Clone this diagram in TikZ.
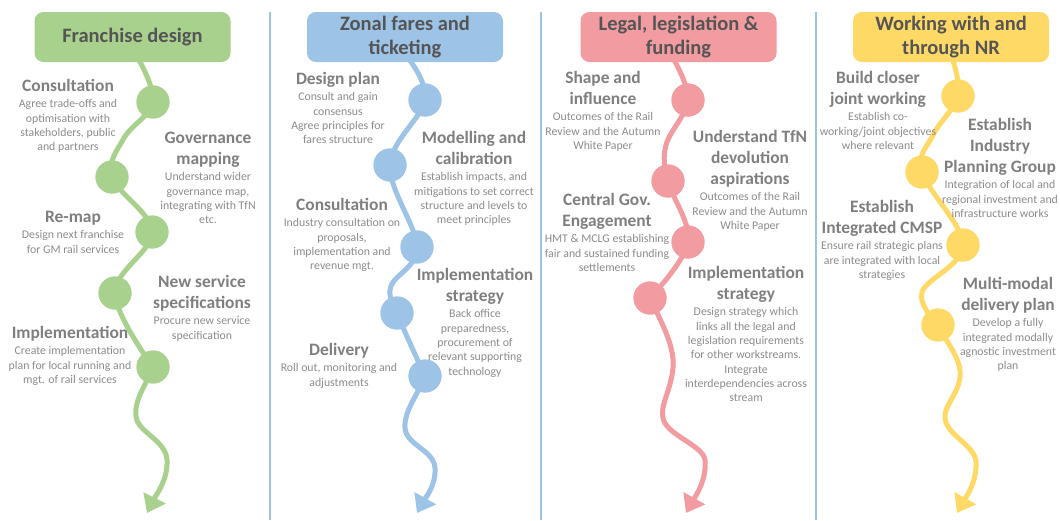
\documentclass[tikz,border=0pt]{standalone}
\usepackage{fontspec}
\setmainfont{Carlito}
\usetikzlibrary{arrows.meta}
\definecolor{cgreen}{HTML}{A9D18E}
\definecolor{cblue}{HTML}{9DC3E6}
\definecolor{cpink}{HTML}{F29BA0}
\definecolor{cyellow}{HTML}{FFD966}
\definecolor{hgray}{HTML}{555555}
\definecolor{tgray}{HTML}{7F7F7F}
\definecolor{dgray}{HTML}{8C8C8C}
\begin{document}
\begin{tikzpicture}[x=1pt,y=-1pt,
 header/.style={fill=#1, rounded corners=9pt, minimum width=196pt, minimum height=50pt, inner sep=0pt, align=center, text=hgray, font=\bfseries\fontsize{20.5}{24}\selectfont},
 ttl/.style={font=\bfseries\fontsize{17.4}{21}\selectfont, text=tgray, align=center, inner sep=0pt, anchor=north},
 dsc/.style={font=\fontsize{11.8}{14.3}\selectfont, text=dgray, align=center, inner sep=0pt, anchor=north},
 dot/.style={circle, fill=#1, minimum size=33pt, inner sep=0pt},
 flow/.style={draw=#1, line width=5pt, -{Triangle[width=24pt,length=17pt]}},
 sep/.style={draw=cblue, line width=1.2pt}]
\fill[white] (0,0) rectangle (1060,520);
\useasboundingbox (0,0) rectangle (1060,520);
% separators
\draw[sep] (270,12) -- (270,520);
\draw[sep] (541,12) -- (541,520);
\draw[sep] (816,12) -- (816,520);
% dots (positions)
\node[dot=cgreen] (g1) at (153,102) {};
\node[dot=cgreen] (g2) at (112,177) {};
\node[dot=cgreen] (g3) at (152,232) {};
\node[dot=cgreen] (g4) at (115,293) {};
\node[dot=cgreen] (g5) at (153,367) {};
\node[dot=cblue] (b1) at (425,100) {};
\node[dot=cblue] (b2) at (390,165) {};
\node[dot=cblue] (b3) at (417,247) {};
\node[dot=cblue] (b4) at (397,313) {};
\node[dot=cblue] (b5) at (425,376) {};
\node[dot=cpink] (p1) at (688,100) {};
\node[dot=cpink] (p2) at (668,181) {};
\node[dot=cpink] (p3) at (688,242) {};
\node[dot=cpink] (p4) at (650,298) {};
\node[dot=cyellow] (y1) at (958,96) {};
\node[dot=cyellow] (y2) at (922,172) {};
\node[dot=cyellow] (y3) at (963,245) {};
\node[dot=cyellow] (y4) at (938,325) {};
% tips
\coordinate (gt) at (147,513);
\coordinate (bt) at (417,513);
\coordinate (pt) at (686,513);
\coordinate (yt) at (957,513);
% flows
\draw[flow=cgreen] plot[smooth, tension=0.6] coordinates {(138,58) (g1.center) (124,138) (g2.center) (g3.center) (g4.center) (g5.center)}
  .. controls (146,385) and (134,400) .. (136,416)
  .. controls (137,432) and (166,440) .. (167,460)
  .. controls (168,480) and (156,495) .. (gt);
\draw[flow=cblue] plot[smooth, tension=0.6] coordinates {(408,58) (b1.center) (b2.center) (b3.center) (391,286) (b4.center) (b5.center)}
  .. controls (418,395) and (404,410) .. (405,428)
  .. controls (406,445) and (434,450) .. (435,468)
  .. controls (436,485) and (426,497) .. (bt);
\draw[flow=cpink] plot[smooth, tension=0.6] coordinates {(673,58) (p1.center) (666,145) (p2.center) (p3.center) (p4.center)}
  .. controls (660,320) and (675,345) .. (673,368)
  .. controls (671,390) and (660,405) .. (663,418)
  .. controls (666,435) and (703,445) .. (705,460)
  .. controls (707,480) and (695,497) .. (pt);
\draw[flow=cyellow] plot[smooth, tension=0.6] coordinates {(952,58) (y1.center) (933,135) (y2.center) (y3.center) (922,292) (y4.center)}
  .. controls (948,345) and (962,360) .. (960,377)
  .. controls (958,395) and (944,405) .. (945,418)
  .. controls (946,435) and (975,445) .. (976,462)
  .. controls (977,482) and (966,497) .. (yt);
% redraw dots on top
\foreach \n/\c in {g1/cgreen,g2/cgreen,g3/cgreen,g4/cgreen,g5/cgreen,b1/cblue,b2/cblue,b3/cblue,b4/cblue,b5/cblue,p1/cpink,p2/cpink,p3/cpink,p4/cpink,y1/cyellow,y2/cyellow,y3/cyellow,y4/cyellow}
  \fill[\c] (\n.center) circle (16.5pt);
% headers
\node[header=cgreen] (hf) at (132.5,37) {Franchise design};
\node[header=cblue] (hz) at (405,37) {Zonal fares and\\ticketing};
\node[header=cpink] (hl) at (678.5,37) {Legal, legislation \&\\funding};
\node[header=cyellow] (hw) at (951,37) {Working with and\\through NR};
% column 1
\node[ttl] (g1t) at (68,76.3) {\strut Consultation\strut};
\node[dsc] (g1d) at (g1t.south) {\strut Agree trade-offs and\\optimisation with\\stakeholders, public\\and partners\strut};
\node[ttl] (g2t) at (208,128.3) {\strut Governance\\mapping\strut};
\node[dsc] (g2d) at (g2t.south) {\strut Understand wider\\governance map,\\integrating with TfN\\etc.\strut};
\node[ttl] (g3t) at (73,207.3) {\strut Re-map\strut};
\node[dsc] (g3d) at (g3t.south) {\strut Design next franchise\\for GM rail services\strut};
\node[ttl] (g4t) at (202,272.3) {\strut New service\\specifications\strut};
\node[dsc] (g4d) at (g4t.south) {\strut Procure new service\\specification\strut};
\node[ttl] (g5t) at (70,323.3) {\strut Implementation\strut};
\node[dsc] (g5d) at (g5t.south) {\strut Create implementation\\plan for local running and\\mgt. of rail services\strut};
% column 2
\node[ttl] (b1t) at (338,69.3) {\strut Design plan\strut};
\node[dsc] (b1d) at (b1t.south) {\strut Consult and gain\\consensus\\Agree principles for\\fares structure\strut};
\node[ttl] (b2t) at (474,128.3) {\strut Modelling and\\calibration\strut};
\node[dsc] (b2d) at (b2t.south) {\strut Establish impacts, and\\mitigations to set correct\\structure and levels to\\meet principles\strut};
\node[ttl] (b3t) at (342,195.3) {\strut Consultation\strut};
\node[dsc] (b3d) at (b3t.south) {\strut Industry consultation on\\proposals,\\implementation and\\revenue mgt.\strut};
\node[ttl] (b4t) at (475,265.3) {\strut Implementation\\strategy\strut};
\node[dsc] (b4d) at (b4t.south) {\strut Back office\\preparedness,\\procurement of\\relevant supporting\\technology\strut};
\node[ttl] (b5t) at (339,340.3) {\strut Delivery\strut};
\node[dsc] (b5d) at (b5t.south) {\strut Roll out, monitoring and\\adjustments\strut};
% column 3
\node[ttl] (p1t) at (603,68.3) {\strut Shape and\\influence\strut};
\node[dsc] (p1d) at (p1t.south) {\strut Outcomes of the Rail\\Review and the Autumn\\White Paper\strut};
\node[ttl] (p2t) at (750,127.3) {\strut Understand TfN\\devolution\\aspirations\strut};
\node[dsc] (p2d) at (p2t.south) {\strut Outcomes of the Rail\\Review and the Autumn\\White Paper\strut};
\node[ttl] (p3t) at (607,190.3) {\strut Central Gov.\\Engagement\strut};
\node[dsc] (p3d) at (p3t.south) {\strut HMT \& MCLG establishing\\fair and sustained funding\\settlements\strut};
\node[ttl] (p4t) at (746,263.3) {\strut Implementation\\strategy\strut};
\node[dsc] (p4d) at (p4t.south) {\strut Design strategy which\\links all the legal and\\legislation requirements\\for other workstreams.\\Integrate\\interdependencies across\\stream\strut};
% column 4
\node[ttl] (y1t) at (878,68.3) {\strut Build closer\\joint working\strut};
\node[dsc] (y1d) at (y1t.south) {\strut Establish co-\\working/joint objectives\\where relevant\strut};
\node[ttl] (y2t) at (1000,115.3) {\strut Establish\\Industry\\Planning Group\strut};
\node[dsc] (y2d) at (y2t.south) {\strut Integration of local and\\regional investment and\\infrastructure works\strut};
\node[ttl] (y3t) at (882,197.3) {\strut Establish\\Integrated CMSP\strut};
\node[dsc] (y3d) at (y3t.south) {\strut Ensure rail strategic plans\\are integrated with local\\strategies\strut};
\node[ttl] (y4t) at (1008,274.3) {\strut Multi-modal\\delivery plan\strut};
\node[dsc] (y4d) at (y4t.south) {\strut Develop a fully\\integrated modally\\agnostic investment\\plan\strut};
\end{tikzpicture}
\end{document}
